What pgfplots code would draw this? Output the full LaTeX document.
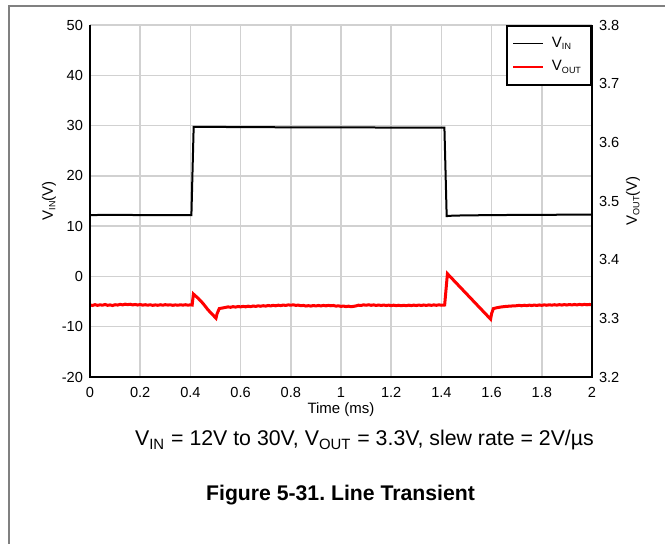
\documentclass[border=0pt]{standalone}
\usepackage{pgfplots}
\pgfplotsset{compat=1.18}
\usepackage{fontspec}
\setmainfont{Liberation Sans}

\newcommand\lsub[1]{\raisebox{-0.3ex}{\fontsize{4.5pt}{5pt}\selectfont #1}}

\pgfplotsset{
  common/.style={
    at={(0pt,0pt)}, anchor=south west,
    width=251pt, height=176pt, scale only axis,
    xmin=0, xmax=2,
    axis line style={draw=none},
    major tick length=0pt,
    tick label style={font=\fontsize{7.3pt}{8pt}\selectfont},
    /pgf/number format/assume math mode=true,
  },
}

\begin{document}
\frenchspacing
\begin{tikzpicture}
\path[use as bounding box] (-45pt,-83.5pt) rectangle (287.5pt,188.5pt);
\draw[gray, line width=0.75pt] (-40.5pt,-90pt) -- (-40.5pt,185.5pt) -- (300pt,185.5pt);

% left axis: input voltage
\begin{axis}[common,
  ymin=-20, ymax=50,
  xtick={0,0.2,0.4,0.6,0.8,1,1.2,1.4,1.6,1.8,2},
  ytick={-20,-10,0,10,20,30,40,50},
  xticklabel style={yshift=-1.5pt},
  grid=major,
  grid style={draw=black!18, line width=0.75pt},
]
\addplot[black, line width=1pt] coordinates {
  (0,12.2) (0.1,12.25) (0.2,12.2) (0.3,12.2) (0.404,12.2)
  (0.413,29.75) (0.6,29.7) (0.8,29.65) (1.0,29.65) (1.2,29.6) (1.412,29.6)
  (1.421,12.0) (1.45,12.1) (1.6,12.2) (1.8,12.25) (2,12.3)
};
\end{axis}

% right axis: output voltage
\begin{axis}[common,
  ymin=3.2, ymax=3.8,
  xtick=\empty,
  ytick={3.2,3.3,3.4,3.5,3.6,3.7,3.8},
  yticklabel pos=right,
  yticklabel style={/pgf/number format/fixed, /pgf/number format/fixed zerofill, /pgf/number format/precision=1},
  legend style={at={(rel axis cs:1,1)}, anchor=north east, draw=black, line width=1pt,
    fill=white, font=\fontsize{7.5pt}{8pt}\selectfont, row sep=1pt,
    inner xsep=3pt, inner ysep=3.5pt},
  legend cell align=left,
  legend image code/.code={\draw[#1, line width=0.6pt] (0pt,0pt) -- (15pt,0pt);},
  /tikz/every odd column/.append style={column sep=2pt},
]
\addlegendimage{black}
\addlegendentry{V\lsub{IN}}
\addplot[red, line width=1.5pt] table {
0 3.3228
0.01 3.3219
0.02 3.3233
0.03 3.3221
0.04 3.3230
0.05 3.3224
0.06 3.3236
0.07 3.3222
0.08 3.3229
0.09 3.3218
0.10 3.3232
0.11 3.3226
0.12 3.3238
0.13 3.3229
0.14 3.3241
0.15 3.3233
0.16 3.3240
0.17 3.3229
0.18 3.3236
0.19 3.3227
0.20 3.3235
0.21 3.3225
0.22 3.3232
0.23 3.3224
0.24 3.3231
0.25 3.3221
0.26 3.3229
0.27 3.3222
0.28 3.3231
0.29 3.3224
0.30 3.3233
0.31 3.3226
0.32 3.3230
0.33 3.3222
0.34 3.3229
0.35 3.3223
0.36 3.3231
0.37 3.3225
0.38 3.3232
0.39 3.3224
0.40 3.3230
0.407 3.3226
0.412 3.3414
0.418 3.3390
0.43 3.3346
0.45 3.3255
0.47 3.3146
0.49 3.3055
0.502 3.3003
0.506 3.3075
0.515 3.3166
0.53 3.3178
0.55 3.3195
0.56 3.3188
0.57 3.3199
0.58 3.3191
0.59 3.3202
0.60 3.3195
0.61 3.3204
0.62 3.3196
0.63 3.3207
0.64 3.3199
0.65 3.3210
0.66 3.3203
0.67 3.3213
0.68 3.3206
0.69 3.3215
0.70 3.3208
0.71 3.3219
0.72 3.3212
0.73 3.3221
0.74 3.3214
0.75 3.3224
0.76 3.3217
0.77 3.3226
0.78 3.3220
0.79 3.3229
0.80 3.3224
0.81 3.3230
0.82 3.3221
0.83 3.3225
0.84 3.3215
0.85 3.3220
0.86 3.3210
0.87 3.3216
0.88 3.3209
0.89 3.3218
0.90 3.3211
0.91 3.3219
0.92 3.3212
0.93 3.3220
0.94 3.3213
0.95 3.3221
0.96 3.3214
0.97 3.3219
0.98 3.3208
0.99 3.3213
1.00 3.3204
1.01 3.3209
1.02 3.3200
1.03 3.3207
1.04 3.3198
1.05 3.3204
1.06 3.3212
1.07 3.3224
1.08 3.3219
1.09 3.3230
1.10 3.3223
1.11 3.3231
1.12 3.3222
1.13 3.3229
1.14 3.3220
1.15 3.3227
1.16 3.3219
1.17 3.3226
1.18 3.3218
1.19 3.3225
1.20 3.3217
1.21 3.3224
1.22 3.3216
1.23 3.3223
1.24 3.3215
1.25 3.3222
1.26 3.3215
1.27 3.3224
1.28 3.3217
1.29 3.3225
1.30 3.3218
1.31 3.3226
1.32 3.3219
1.33 3.3227
1.34 3.3220
1.35 3.3228
1.36 3.3221
1.37 3.3229
1.38 3.3222
1.39 3.3230
1.40 3.3223
1.413 3.3227
1.418 3.3470
1.424 3.3760
1.44 3.3688
1.46 3.3598
1.48 3.3508
1.50 3.3418
1.52 3.3328
1.54 3.3238
1.56 3.3148
1.58 3.3058
1.596 3.2986
1.600 3.3080
1.607 3.3166
1.62 3.3180
1.64 3.3195
1.66 3.3204
1.68 3.3210
1.70 3.3215
1.71 3.3222
1.72 3.3214
1.73 3.3223
1.74 3.3216
1.75 3.3225
1.76 3.3218
1.77 3.3226
1.78 3.3219
1.79 3.3228
1.80 3.3221
1.81 3.3230
1.82 3.3223
1.83 3.3231
1.84 3.3224
1.85 3.3232
1.86 3.3225
1.87 3.3233
1.88 3.3226
1.89 3.3234
1.90 3.3227
1.91 3.3235
1.92 3.3228
1.93 3.3236
1.94 3.3229
1.95 3.3237
1.96 3.3230
1.97 3.3238
1.98 3.3231
1.99 3.3236
2.00 3.3232
};
\addlegendentry{V\lsub{OUT}}
\end{axis}

% axis frame: left, bottom and right in black
\draw[black, line width=1pt] (0pt,176pt) -- (0pt,0pt) -- (251pt,0pt) -- (251pt,176pt);

% axis titles
\node[rotate=90, font=\fontsize{7.5pt}{9pt}\selectfont] at (-20.5pt,88pt) {V\lsub{IN}(V)};
\node[rotate=90, font=\fontsize{7.5pt}{9pt}\selectfont] at (271.5pt,88pt) {V\lsub{OUT}(V)};
\node[anchor=base, font=\fontsize{7.5pt}{9pt}\selectfont] at (125.5pt,-18.5pt) {Time (ms)};

% caption lines
\node[anchor=base, font=\fontsize{10.65pt}{12pt}\selectfont] at (137.25pt,-34.5pt)
  {V\textsubscript{IN} = 12V to 30V, V\textsubscript{OUT} = 3.3V, slew rate = 2V/µs};
\node[anchor=base, font=\fontsize{10.6pt}{12pt}\selectfont\bfseries] at (125.25pt,-62pt)
  {Figure 5-31. Line Transient};
\end{tikzpicture}
\end{document}
